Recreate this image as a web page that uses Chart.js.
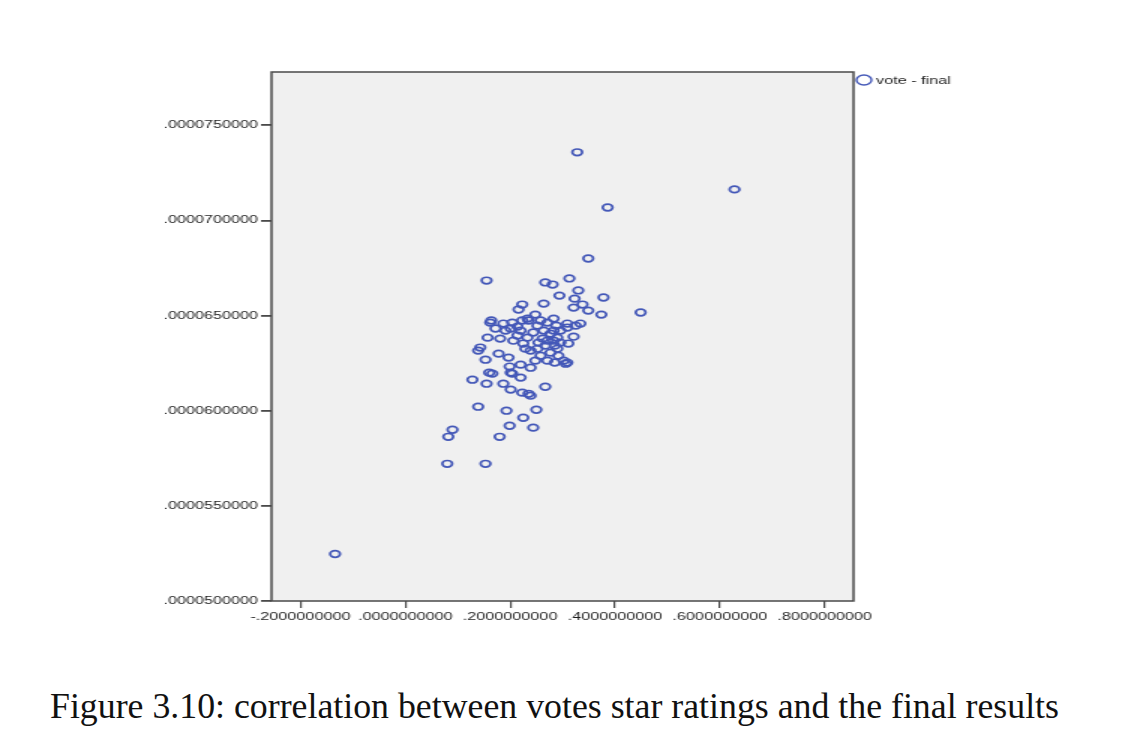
<!DOCTYPE html>
<html>
<head>
<meta charset="utf-8">
<script src="https://cdn.jsdelivr.net/npm/chart.js@4.4.1/dist/chart.umd.min.js"></script>
<style>
  html,body{margin:0;padding:0;background:#fff;width:1134px;height:755px;overflow:hidden}
  #wrap{position:absolute;left:0;top:0;width:660px;height:640px;transform:scaleX(1.5);transform-origin:0 0}
  #cap{position:absolute;left:50px;top:686px;font-family:"Liberation Serif","Times New Roman",serif;font-size:35.8px;line-height:40px;color:#111;white-space:nowrap}
</style>
</head>
<body>
<div id="wrap"><canvas id="c" width="660" height="640"></canvas></div>
<div id="cap">Figure 3.10: correlation between votes star ratings and the final results</div>
<script>
/* SPSS 산점도: vote (x) - final (y) */
const SERIES_LABEL = 'vote - final';
const X_TICKS = [-0.2, 0.0, 0.2, 0.4, 0.6, 0.8];
const Y_TICKS = [0.00005, 0.000055, 0.00006, 0.000065, 0.00007, 0.000075];

const voteX = [
  0.328, 0.386, 0.628, 0.349, -0.134, 0.449, 0.155, 0.267, 0.281, 0.313,
  0.330, 0.294, 0.378, 0.323, 0.264, 0.223, 0.338, 0.321, 0.216, 0.349,
  0.374, 0.248, 0.283, 0.334, 0.309, 0.309, 0.321, 0.311, 0.283, 0.296,
  0.302, 0.309, 0.285, 0.267, 0.162, 0.164, 0.187, 0.157, 0.181, 0.143,
  0.139, 0.153, 0.178, 0.197, 0.166, 0.160, 0.128, 0.155, 0.187, 0.199,
  0.204, 0.220, 0.201, 0.223, 0.235, 0.239, 0.271, 0.283, 0.285, 0.252,
  0.239, 0.258, 0.271, 0.248, 0.239, 0.306, 0.290, 0.277, 0.220, 0.201,
  0.206, 0.225, 0.214, 0.233, 0.244, 0.252, 0.235, 0.223, 0.204, 0.264,
  0.271, 0.290, 0.139, 0.193, 0.250, 0.225, 0.199, 0.244, 0.090, 0.082,
  0.180, 0.080, 0.153, 0.220, 0.201, 0.233, 0.267, 0.277, 0.262, 0.292,
  0.254, 0.229, 0.296, 0.288, 0.325, 0.214, 0.172, 0.191, 0.258
];
const finalY = [
  7.358e-5, 7.068e-5, 7.163e-5, 6.800e-5, 5.247e-5, 6.516e-5, 6.684e-5, 6.674e-5, 6.663e-5, 6.695e-5,
  6.632e-5, 6.605e-5, 6.595e-5, 6.589e-5, 6.563e-5, 6.558e-5, 6.558e-5, 6.542e-5, 6.532e-5, 6.526e-5,
  6.505e-5, 6.505e-5, 6.484e-5, 6.458e-5, 6.458e-5, 6.437e-5, 6.389e-5, 6.353e-5, 6.421e-5, 6.358e-5,
  6.263e-5, 6.253e-5, 6.253e-5, 6.126e-5, 6.463e-5, 6.474e-5, 6.458e-5, 6.384e-5, 6.379e-5, 6.332e-5,
  6.316e-5, 6.268e-5, 6.300e-5, 6.279e-5, 6.195e-5, 6.200e-5, 6.163e-5, 6.142e-5, 6.142e-5, 6.232e-5,
  6.195e-5, 6.174e-5, 6.111e-5, 6.095e-5, 6.089e-5, 6.079e-5, 6.463e-5, 6.368e-5, 6.342e-5, 6.326e-5,
  6.316e-5, 6.289e-5, 6.263e-5, 6.263e-5, 6.226e-5, 6.247e-5, 6.384e-5, 6.405e-5, 6.421e-5, 6.432e-5,
  6.368e-5, 6.353e-5, 6.395e-5, 6.384e-5, 6.411e-5, 6.447e-5, 6.474e-5, 6.474e-5, 6.463e-5, 6.421e-5,
  6.368e-5, 6.326e-5, 6.021e-5, 6.000e-5, 6.005e-5, 5.963e-5, 5.921e-5, 5.911e-5, 5.900e-5, 5.863e-5,
  5.863e-5, 5.721e-5, 5.721e-5, 6.242e-5, 6.200e-5, 6.484e-5, 6.342e-5, 6.305e-5, 6.379e-5, 6.289e-5,
  6.358e-5, 6.326e-5, 6.421e-5, 6.447e-5, 6.447e-5, 6.442e-5, 6.432e-5, 6.421e-5, 6.474e-5
];

const PT = '#4458B8';
const FRAME = '#4A4A4A';
const TXT = '#1E1E1E';

function fmt(v){
  return Number(v).toFixed(10).replace(/^(-?)0\./, '$1.');
}

/* 플롯 배경 + 테두리 + 범례 */
const frame = {
  id:'frame',
  beforeDraw(chart){
    const {ctx, chartArea:a} = chart;
    ctx.save();
    ctx.fillStyle = '#F0F0F0';
    ctx.fillRect(a.left, a.top, a.right-a.left, a.bottom-a.top);
    ctx.restore();
  },
  afterDraw(chart){
    const {ctx, chartArea:a} = chart;
    ctx.save();
    ctx.strokeStyle = FRAME; ctx.lineWidth = 1.5;
    ctx.strokeRect(a.left, a.top, a.right-a.left, a.bottom-a.top);
    // legend
    ctx.strokeStyle = PT; ctx.lineWidth = 1.4;
    ctx.beginPath(); ctx.arc(a.right+7, a.top+8, 5, 0, Math.PI*2); ctx.stroke();
    ctx.fillStyle = TXT; ctx.font = '10.8px "Liberation Sans", Arial, sans-serif';
    ctx.textBaseline = 'middle'; ctx.textAlign = 'left';
    ctx.fillText(SERIES_LABEL, a.right+15, a.top+9);
    ctx.restore();
  }
};

new Chart(document.getElementById('c'), {
  type:'scatter',
  data:{ datasets:[{
    label:SERIES_LABEL,
    data:voteX.map((x,i)=>({x, y:finalY[i]})),
    pointStyle:'circle', pointRadius:3.3, pointBorderWidth:1.7,
    borderColor:PT, backgroundColor:'transparent', pointHoverRadius:3.3
  }]},
  plugins:[frame],
  options:{
    responsive:false, animation:false, devicePixelRatio:1,
    layout:{ padding:{ top:72, right:91, bottom:0, left:0 } },
    plugins:{ legend:{display:false}, tooltip:{enabled:false} },
    scales:{
      x:{
        type:'linear', min:-0.2553, max:0.855,
        afterFit:s=>{ s.height = 39; },
        afterBuildTicks:s=>{ s.ticks = X_TICKS.map(v=>({value:v})); },
        ticks:{ callback:v=>fmt(v), color:TXT, padding:3, maxRotation:0, autoSkip:false,
                font:{family:'"Liberation Sans", Arial, sans-serif', size:10.8} },
        grid:{ drawOnChartArea:false, drawTicks:true, tickLength:7, color:FRAME, lineWidth:1.2 },
        border:{ display:false }
      },
      y:{
        type:'linear', min:0.00005, max:0.0000778,
        afterFit:s=>{ s.width = 181; },
        afterBuildTicks:s=>{ s.ticks = Y_TICKS.map(v=>({value:v})); },
        ticks:{ callback:v=>fmt(v), color:TXT, padding:2, autoSkip:false,
                font:{family:'"Liberation Sans", Arial, sans-serif', size:10.8} },
        grid:{ drawOnChartArea:false, drawTicks:true, tickLength:7, color:FRAME, lineWidth:1.8 },
        border:{ display:false }
      }
    }
  }
});
</script>
</body>
</html>
